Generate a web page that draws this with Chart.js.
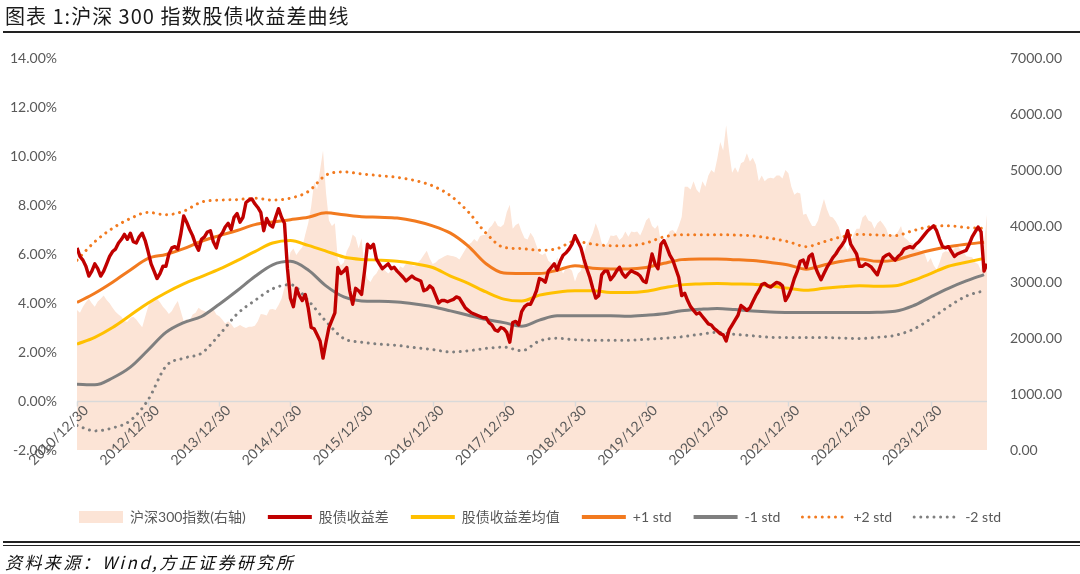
<!DOCTYPE html>
<html lang="zh-CN">
<head>
<meta charset="utf-8">
<title>沪深300指数股债收益差曲线</title>
<script src="https://cdn.jsdelivr.net/npm/chart.js@4.4.1/dist/chart.umd.min.js"></script>
<style>
  html, body { margin: 0; padding: 0; background: #fff; }
  body { width: 1080px; height: 574px; position: relative; overflow: hidden; font-family: 'Noto Sans CJK SC', sans-serif; }
  #wrap { position: absolute; left: 0; top: 0; width: 1080px; height: 574px; }
  #title { position: absolute; left: 5px; top: 1px; font-size: 20px; color: #1a1a1a; letter-spacing: 1px; }
  .rule { position: absolute; left: 3px; right: 0; height: 0; }
  #ruleTop { top: 31px; border-top: 2.5px solid #222; }
  #ruleBottom { top: 541px; border-top: 2px solid #222; }
  #ruleBottom2 { top: 545px; border-top: 1px solid #222; }
  #source { position: absolute; left: 5px; top: 549px; font-size: 17px; font-style: italic; color: #111; letter-spacing: 2.4px; }
</style>
</head>
<body>
<div id="wrap"><canvas id="chart"></canvas></div>
<div id="title">图表 1:沪深 300 指数股债收益差曲线</div>
<div class="rule" id="ruleTop"></div>
<div class="rule" id="ruleBottom"></div>
<div class="rule" id="ruleBottom2"></div>
<div id="source">资料来源：Wind,方正证券研究所</div>
<script>
// x axis is months since 2011/12/30
const TICK_MONTHS = [0, 12, 24, 36, 48, 60, 72, 84, 96, 108, 120, 132, 144];
const TICK_LABELS = ['2010/12/30', '2012/12/30', '2013/12/30', '2014/12/30', '2015/12/30', '2016/12/30',
  '2017/12/30', '2018/12/30', '2019/12/30', '2020/12/30', '2021/12/30', '2022/12/30', '2023/12/30'];

// half-month samples
const SPREAD = [
  6.25,5.9,5.75,5.5,5.1,5.3,5.6,5.4,5.1,5.3,5.6,5.9,6.1,6.2,6.45,6.6,6.8,6.6,6.85,6.5,6.45,6.7,6.85,6.55,
  6.1,5.6,5.3,5.0,5.2,5.5,5.5,6.0,6.25,6.3,6.2,6.8,7.55,7.3,7.0,6.75,6.4,6.15,6.6,6.7,6.9,6.95,6.5,6.25,
  6.7,6.85,7.1,7.25,7.0,7.5,7.65,7.3,7.5,8.1,8.2,8.25,8.05,7.9,7.7,6.95,7.45,7.2,7.1,7.5,7.85,7.5,7.25,5.4,
  4.2,3.85,4.6,4.3,4.1,4.35,3.8,3.0,2.95,2.7,2.45,1.75,2.4,3.0,3.3,3.6,5.45,5.2,5.3,5.45,4.5,3.95,4.6,4.5,
  4.35,5.3,6.4,6.25,6.4,5.8,5.6,5.4,5.5,5.6,5.4,5.46,5.3,5.18,5.05,4.9,5.0,5.1,5.0,4.95,4.9,4.5,4.55,4.7,
  4.6,4.3,4.0,4.1,4.1,4.05,4.1,4.15,4.25,4.2,4.0,3.8,3.7,3.6,3.55,3.5,3.45,3.4,3.4,3.2,3.1,2.9,2.85,3.0,
  2.95,2.8,2.4,3.2,3.25,3.1,3.65,3.85,3.95,3.95,4.2,4.5,5.0,4.95,4.85,5.3,5.45,5.6,5.35,5.7,5.95,6.05,6.2,6.4,
  6.75,6.5,6.25,5.8,5.4,5.05,4.6,4.2,4.3,5.15,5.3,5.3,4.95,5.1,5.3,5.46,5.2,5.05,5.2,5.32,5.25,5.2,5.1,4.9,
  4.84,5.4,6.0,5.6,5.4,6.4,6.55,6.27,5.95,5.75,5.4,5.05,4.3,4.4,4.1,3.85,3.7,3.55,3.6,3.45,3.3,3.15,3.1,2.95,
  2.86,2.75,2.7,2.45,2.9,3.1,3.3,3.5,3.9,3.8,3.7,3.8,4.05,4.3,4.5,4.75,4.8,4.7,4.65,4.75,4.84,4.8,4.7,4.1,
  4.3,4.6,5.0,5.3,5.7,5.75,5.45,5.9,6.0,5.5,5.2,4.95,5.2,5.45,5.65,5.85,6.0,6.2,6.35,6.55,6.95,6.4,6.2,6.0,
  5.5,5.5,5.6,5.55,5.46,5.3,5.15,5.5,5.85,5.95,6.0,5.85,5.75,5.9,6.0,6.2,6.25,6.3,6.25,6.4,6.5,6.65,6.8,6.95,
  7.05,7.15,6.95,6.6,6.3,6.25,6.3,6.1,5.9,6.0,6.05,6.1,6.15,6.4,6.7,6.9,7.1,6.9,5.3,5.6
];
const HS300 = [
  2500,2450,2560,2640,2700,2620,2560,2650,2700,2760,2680,2620,2540,2470,2420,2380,2300,2290,2360,2380,2330,2260,2190,2380,
  2560,2680,2720,2700,2640,2560,2500,2430,2480,2580,2660,2480,2300,2340,2310,2420,2450,2540,2500,2480,2450,2480,2520,2420,
  2390,2330,2260,2300,2250,2180,2200,2230,2200,2180,2200,2200,2220,2300,2430,2420,2400,2510,2520,2500,2590,2700,2900,3250,
  3530,3600,3480,3560,3620,3850,4050,4350,4780,4650,5000,5350,4600,4100,4000,4050,3400,3300,3350,3550,3650,3850,3800,3600,
  3780,3250,3050,3000,3100,3150,3250,3280,3200,3150,3200,3230,3170,3280,3250,3330,3380,3300,3280,3350,3400,3480,3560,3420,
  3320,3350,3400,3430,3460,3480,3470,3460,3440,3400,3490,3580,3670,3700,3770,3720,3820,3840,3840,3960,4010,4100,4000,3980,
  4030,4250,4380,3950,4020,4050,3900,3780,3760,3880,3800,3650,3510,3480,3520,3380,3340,3250,3440,3250,3150,3250,3250,3200,
  3010,3150,3200,3500,3670,3750,3870,4050,3910,3700,3640,3700,3830,3820,3840,3750,3800,3900,3810,3900,3890,3900,3830,3950,
  4100,4150,4000,3950,4020,3700,3700,3800,3910,3930,3870,4000,4160,4700,4700,4650,4800,4650,4590,4800,4700,4900,5000,4950,
  5200,5500,5350,5800,5330,4950,5050,4950,5120,5150,5300,5150,5220,5100,4800,4900,4800,4850,4860,4850,4900,4900,4850,5000,
  4940,4700,4560,4600,4580,4200,4220,4100,4000,4000,4100,4300,4480,4300,4170,4150,4080,3980,3800,3650,3550,3700,3850,3950,
  3950,4150,4200,4100,4070,3950,4050,4100,4030,3950,3800,3850,3840,3900,4000,3800,3760,3700,3690,3600,3570,3550,3500,3350,
  3430,3300,3220,3350,3520,3550,3540,3550,3600,3650,3580,3550,3460,3450,3440,3350,3320,3200,3700,4200
];

// quarterly samples of the smooth bands
const MEAN = [2.32,2.6,3.0,3.5,4.0,4.42,4.78,5.08,5.38,5.73,6.1,6.45,6.55,6.35,6.12,5.88,5.78,5.75,5.7,5.6,5.45,5.1,4.8,4.45,4.16,4.08,
  4.32,4.44,4.5,4.5,4.43,4.43,4.48,4.62,4.74,4.78,4.8,4.78,4.77,4.7,4.6,4.52,4.6,4.66,4.7,4.68,4.7,4.92,5.2,5.5,5.66,5.82];
const PLUS1 = [4.02,4.4,4.85,5.35,5.82,5.98,6.22,6.52,6.75,6.96,7.2,7.31,7.4,7.5,7.68,7.6,7.52,7.5,7.47,7.35,7.15,6.85,6.32,5.6,5.22,5.2,
  5.2,5.34,5.52,5.42,5.39,5.39,5.45,5.62,5.77,5.8,5.8,5.77,5.73,5.65,5.55,5.38,5.55,5.7,5.8,5.7,5.75,5.96,6.15,6.3,6.4,6.48];
const MINUS1 = [0.68,0.66,0.94,1.38,2.08,2.8,3.2,3.45,3.95,4.5,5.08,5.56,5.7,5.35,4.7,4.25,4.08,4.07,4.04,3.96,3.85,3.68,3.5,3.33,3.2,3.05,
  3.3,3.48,3.48,3.48,3.48,3.46,3.5,3.56,3.68,3.74,3.78,3.73,3.67,3.63,3.61,3.61,3.61,3.61,3.61,3.62,3.66,3.88,4.25,4.6,4.9,5.16];
const PLUS2 = [5.75,6.5,7.05,7.45,7.7,7.6,7.75,8.12,8.2,8.22,8.28,8.2,8.28,8.55,9.22,9.35,9.27,9.2,9.13,9.0,8.78,8.38,7.72,6.85,6.27,6.22,
  6.15,6.22,6.52,6.4,6.34,6.34,6.45,6.7,6.79,6.79,6.79,6.77,6.74,6.64,6.5,6.3,6.5,6.7,6.8,6.78,6.75,6.95,7.12,7.15,7.08,7.05];
const MINUS2 = [-1.0,-1.22,-1.1,-0.8,0.05,1.42,1.75,1.95,2.7,3.55,4.1,4.58,4.75,4.1,3.25,2.55,2.4,2.32,2.27,2.18,2.1,2.0,2.05,2.15,2.2,2.05,
  2.45,2.56,2.5,2.48,2.48,2.48,2.52,2.56,2.62,2.72,2.8,2.72,2.66,2.6,2.59,2.59,2.59,2.57,2.55,2.6,2.68,2.92,3.35,3.85,4.28,4.5];

const halfMonth = arr => arr.map((v, i) => ({ x: i * 0.5, y: v }));
const quarterly = arr => arr.map((v, i) => ({ x: i * 3, y: v }));

const GREY_TEXT = '#595959';
const FONT = "Lato, 'Noto Sans CJK SC', sans-serif";
const DOT = [0.01, 6.6];

// category axis sits on the 0% line, like the Excel original
const zeroAxis = {
  id: 'zeroAxis',
  afterDatasetDraw(chart, args) {
    if (args.index !== 0) return;
    const { ctx, chartArea, scales } = chart;
    const y = Math.round(scales.y.getPixelForValue(0)) + 0.5;
    ctx.save();
    ctx.strokeStyle = '#d9d9d9';
    ctx.lineWidth = 1.5;
    ctx.beginPath();
    ctx.moveTo(chartArea.left, y);
    ctx.lineTo(chartArea.right, y);
    scales.x.ticks.forEach(t => {
      const x = Math.round(scales.x.getPixelForValue(t.value)) + 0.5;
      ctx.moveTo(x, y);
      ctx.lineTo(x, y + 5);
    });
    ctx.stroke();
    ctx.restore();
  },
  afterDraw(chart) {
    const { ctx, scales } = chart;
    const y = scales.y.getPixelForValue(0);
    ctx.save();
    ctx.fillStyle = GREY_TEXT;
    ctx.font = '14px ' + FONT;
    ctx.textAlign = 'right';
    ctx.textBaseline = 'top';
    scales.x.ticks.forEach(t => {
      const x = scales.x.getPixelForValue(t.value);
      ctx.save();
      ctx.translate(x + 4, y + 2);
      ctx.rotate(-Math.PI / 4);
      ctx.fillText(TICK_LABELS[TICK_MONTHS.indexOf(t.value)], 0, 0);
      ctx.restore();
    });
    ctx.restore();
  }
};

Chart.defaults.font.family = FONT;
Chart.defaults.color = GREY_TEXT;

const ctx = document.getElementById('chart').getContext('2d');
new Chart(ctx, {
  type: 'line',
  data: {
    datasets: [
      { label: '沪深300指数(右轴)', data: halfMonth(HS300), yAxisID: 'y1', fill: 'origin',
        backgroundColor: '#FCE4D6', borderWidth: 0, pointRadius: 0, order: 10,
        legendColor: '#FCE4D6', legendWidth: 12 },
      { label: '股债收益差', data: halfMonth(SPREAD), yAxisID: 'y', borderColor: '#C00000',
        borderWidth: 3.4, pointRadius: 0, borderJoinStyle: 'round', order: 1,
        legendColor: '#C00000', legendWidth: 4 },
      { label: '股债收益差均值', data: quarterly(MEAN), yAxisID: 'y', borderColor: '#FFC000',
        borderWidth: 3, pointRadius: 0, cubicInterpolationMode: 'monotone', order: 2,
        legendColor: '#FFC000', legendWidth: 4 },
      { label: '+1 std', data: quarterly(PLUS1), yAxisID: 'y', borderColor: '#F27A1F',
        borderWidth: 3, pointRadius: 0, cubicInterpolationMode: 'monotone', order: 3,
        legendColor: '#F27A1F', legendWidth: 4 },
      { label: '-1 std', data: quarterly(MINUS1), yAxisID: 'y', borderColor: '#7F7F7F',
        borderWidth: 3, pointRadius: 0, cubicInterpolationMode: 'monotone', order: 4,
        legendColor: '#7F7F7F', legendWidth: 4 },
      { label: '+2 std', data: quarterly(PLUS2), yAxisID: 'y', borderColor: '#F27A1F',
        borderWidth: 3, borderDash: DOT, borderCapStyle: 'round', pointRadius: 0,
        cubicInterpolationMode: 'monotone', order: 5, legendColor: '#F27A1F', legendWidth: 3 },
      { label: '-2 std', data: quarterly(MINUS2), yAxisID: 'y', borderColor: '#7F7F7F',
        borderWidth: 3, borderDash: DOT, borderCapStyle: 'round', pointRadius: 0,
        cubicInterpolationMode: 'monotone', order: 6, legendColor: '#7F7F7F', legendWidth: 3 }
    ]
  },
  options: {
    responsive: true,
    maintainAspectRatio: false,
    animation: false,
    layout: { padding: { top: 58, left: 0, right: 0, bottom: 40 } },
    scales: {
      x: {
        type: 'linear',
        min: 0,
        max: 153.5,
        grid: { display: false },
        border: { display: false },
        afterBuildTicks: scale => { scale.ticks = TICK_MONTHS.map(v => ({ value: v })); },
        afterFit: scale => { scale.height = 38; },
        ticks: { display: false, autoSkip: false }
      },
      y: {
        position: 'left',
        min: -2,
        max: 14,
        grid: { display: false },
        border: { display: false },
        afterFit: scale => { scale.width = 77; },
        ticks: { stepSize: 2, padding: 12, color: GREY_TEXT, font: { size: 14 },
          callback: v => v.toFixed(2) + '%' }
      },
      y1: {
        position: 'right',
        min: 0,
        max: 7000,
        grid: { display: false },
        border: { display: false },
        afterFit: scale => { scale.width = 93; },
        ticks: { stepSize: 1000, padding: 15, color: GREY_TEXT, font: { size: 14 },
          callback: v => v.toFixed(2) }
      }
    },
    plugins: {
      tooltip: { enabled: false },
      legend: {
        position: 'bottom',
        labels: {
          usePointStyle: true,
          pointStyleWidth: 44,
          boxHeight: 12,
          padding: 22,
          color: GREY_TEXT,
          font: { size: 14 },
          generateLabels: chart => chart.data.datasets.map((ds, i) => ({
            text: ds.label,
            datasetIndex: i,
            fillStyle: ds.legendColor,
            strokeStyle: ds.legendColor,
            lineWidth: ds.legendWidth,
            lineDash: ds.borderDash || [],
            lineCap: ds.borderCapStyle || 'butt',
            pointStyle: 'line',
            fontColor: GREY_TEXT,
            hidden: false
          }))
        }
      }
    }
  },
  plugins: [zeroAxis]
});
</script>
</body>
</html>
